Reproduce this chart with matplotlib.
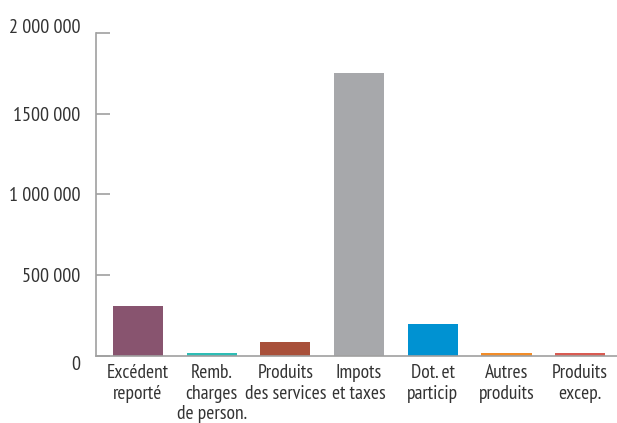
import matplotlib.pyplot as plt
import matplotlib.transforms as mtransforms

categories = ["Excédent\nreporté", "Remb.\ncharges\nde person.", "Produits\ndes services",
              "Impots\net taxes", "Dot. et\nparticip", "Autres\nproduits", "Produits\nexcep."]
values = [310000, 20000, 88000, 1752000, 198000, 18000, 18000]
colors = ["#88546F", "#2EBDB5", "#A8503A", "#A7A8AB", "#0092D2", "#F28C28", "#D95B52"]
yticks = [0, 500000, 1000000, 1500000, 2000000]
ytick_labels = ["0", "500 000", "1 000 000", "1500 000", "2 000 000"]

plt.rcParams['font.family'] = ['PT Sans Narrow', 'DejaVu Sans']

fig = plt.figure(figsize=(6.17, 4.23), dpi=100)
ax = fig.add_axes([0.1556, 0.1584, 0.8444, 0.7636])

ax.bar(range(len(values)), values, width=0.68, color=colors)

ax.set_xlim(-0.57, 6.5)
ax.set_ylim(0, 2000000)
ax.set_yticks(yticks)
ax.set_yticklabels(ytick_labels)
ax.set_xticks(range(len(categories)))
ax.set_xticklabels(categories, linespacing=1.18)

for side in ["top", "right"]:
    ax.spines[side].set_visible(False)
for side in ["left", "bottom"]:
    ax.spines[side].set_color("#A0A0A0")
    ax.spines[side].set_linewidth(1.2)

ax.tick_params(axis="y", direction="in", length=10, width=1.2, color="#A0A0A0",
               labelsize=14.5, labelcolor="#333333", pad=11)
ax.tick_params(axis="x", length=0, labelsize=14, labelcolor="#333333", pad=6)

# nudge first and last y labels like the original
labels = ax.get_yticklabels()
labels[0].set_transform(labels[0].get_transform() +
                        mtransforms.ScaledTranslation(0, -5 / 72, fig.dpi_scale_trans))
labels[-1].set_transform(labels[-1].get_transform() +
                         mtransforms.ScaledTranslation(0, 5 / 72, fig.dpi_scale_trans))

fig.savefig("out.png", dpi=100)
